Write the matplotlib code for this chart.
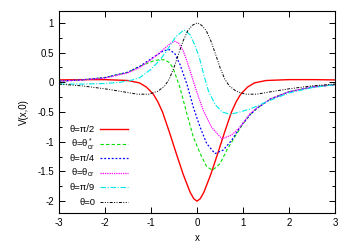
import numpy as np
import matplotlib.pyplot as plt
from matplotlib.lines import Line2D
from matplotlib.ticker import MultipleLocator

plt.rcParams['font.family'] = ['Liberation Sans', 'DejaVu Sans']
plt.rcParams['mathtext.fontset'] = 'custom'
plt.rcParams['mathtext.rm'] = 'Liberation Sans'
plt.rcParams['mathtext.it'] = 'Liberation Sans'

# values
x_red = [-3, -2.5, -2, -1.5, -1.25, -1.1, -0.95, -0.85, -0.75, -0.6, -0.45, -0.3, -0.15, -0.07, 0,
         0.07, 0.15, 0.3, 0.45, 0.6, 0.75, 0.85, 0.95, 1.1, 1.25, 1.5, 2, 2.5, 3]
v_red = [0.04, 0.045, 0.045, 0.03, -0.01, -0.08, -0.2, -0.33, -0.5, -0.84, -1.2, -1.55, -1.85, -1.96, -2.0,
         -1.96, -1.85, -1.55, -1.2, -0.84, -0.5, -0.33, -0.2, -0.08, -0.01, 0.03, 0.045, 0.045, 0.04]

x_green = [-3, -2.5, -2, -1.5, -1.24, -0.95, -0.82, -0.7, -0.6, -0.52, -0.37, -0.22, -0.08,
           0.07, 0.21, 0.34, 0.5, 0.65, 0.86, 1.0, 1.15, 1.3, 1.6, 2, 2.5, 3]
v_green = [0.02, 0.04, 0.08, 0.17, 0.27, 0.36, 0.38, 0.38, 0.33, 0.24, -0.09, -0.53, -0.92,
           -1.2, -1.42, -1.48, -1.37, -1.14, -0.87, -0.7, -0.55, -0.44, -0.28, -0.16, -0.08, -0.04]

x_blue = [-3, -2.5, -2, -1.5, -1.24, -0.95, -0.73, -0.6, -0.48, -0.37, -0.22, -0.08,
          0.07, 0.21, 0.39, 0.57, 0.75, 0.93, 1.0, 1.15, 1.3, 1.6, 2, 2.5, 3]
v_blue = [0.02, 0.04, 0.08, 0.17, 0.27, 0.42, 0.53, 0.55, 0.48, 0.3, -0.03, -0.42,
          -0.76, -1.03, -1.2, -1.14, -0.98, -0.76, -0.69, -0.55, -0.44, -0.28, -0.16, -0.08, -0.04]

x_mag = [-3, -2.5, -2, -1.5, -1.24, -0.95, -0.66, -0.55, -0.48, -0.4, -0.3, -0.22, -0.01,
         0.14, 0.32, 0.54, 0.75, 0.93, 1.0, 1.15, 1.3, 1.6, 2, 2.5, 3]
v_mag = [0.02, 0.04, 0.07, 0.16, 0.25, 0.41, 0.6, 0.67, 0.69, 0.66, 0.53, 0.36, -0.15,
         -0.48, -0.76, -0.95, -0.89, -0.76, -0.69, -0.53, -0.43, -0.28, -0.16, -0.08, -0.04]

x_cyan = [-3, -2.5, -2, -1.67, -1.4, -1.24, -1.0, -0.8, -0.66, -0.46, -0.28, -0.15, -0.05,
          0.05, 0.15, 0.25, 0.4, 0.55, 0.72, 0.93, 1.15, 1.3, 1.6, 2, 2.5, 3]
v_cyan = [-0.03, -0.03, -0.02, 0.0, 0.04, 0.08, 0.22, 0.38, 0.53, 0.77, 0.88, 0.8, 0.63,
          0.42, 0.12, -0.15, -0.38, -0.5, -0.54, -0.5, -0.45, -0.4, -0.3, -0.18, -0.09, -0.04]

x_black = [-3, -2.5, -2, -1.6, -1.3, -1.05, -0.85, -0.7, -0.6, -0.5, -0.4, -0.3, -0.2, -0.1, 0,
           0.1, 0.2, 0.3, 0.4, 0.5, 0.6, 0.7, 0.85, 1.05, 1.3, 1.6, 2, 2.5, 3]
v_black = [-0.03, -0.06, -0.11, -0.16, -0.2, -0.2, -0.15, -0.06, 0.06, 0.25, 0.48, 0.7, 0.87, 0.96, 1.0,
           0.96, 0.87, 0.7, 0.48, 0.25, 0.06, -0.06, -0.15, -0.2, -0.2, -0.16, -0.11, -0.06, -0.03]

labels = [r'θ=π/2', r'θ=θ$^*_{\rm cr}$', r'θ=π/4', r'θ=θ$_{\rm cr}$', r'θ=π/9', r'θ=0']

series = [(x_red, v_red), (x_green, v_green), (x_blue, v_blue),
          (x_mag, v_mag), (x_cyan, v_cyan), (x_black, v_black)]
colors = ['#ff0000', '#00e000', '#0000ff', '#ff00ff', '#00e8e8', '#000000']
widths = [1.0, 0.8, 0.9, 0.9, 0.8, 0.7]
styles = ['-', (0, (3, 2)), (0, (1.5, 1.5)), (0, (1, 0.8)),
          (0, (5, 1.5, 1, 1.5)), (0, (3, 1.5, 1, 1.5, 1, 1.5))]

W, H = 350, 245
fig = plt.figure(figsize=(W / 100, H / 100), dpi=100)
ax = fig.add_axes([59 / W, 1 - 213 / H, 276 / W, 202 / H])

for (xs, vs), c, w, s in zip(series, colors, widths, styles):
    ax.plot(xs, vs, color=c, lw=w, ls=s)

ax.set_xlim(-3, 3)
ax.set_ylim(-2.2, 1.2)
ax.yaxis.set_minor_locator(MultipleLocator(0.25))
ax.tick_params(which='both', direction='in', top=True, right=True, labelsize=7, width=0.7)
ax.tick_params(which='major', length=4)
ax.tick_params(which='minor', length=2)
ax.set_yticks([-2, -1.5, -1, -0.5, 0, 0.5, 1])
ax.set_yticklabels(['-2', '-1.5', '-1', '-0.5', '0', '0.5', '1'])
ax.set_xticks([-3, -2, -1, 0, 1, 2, 3])
ax.set_xticklabels(['-3', '-2', '-1', '0', '1', '2', '3'])
for sp in ax.spines.values():
    sp.set_linewidth(0.8)

ax.set_xlabel('x', fontsize=7, labelpad=4)
ax.set_ylabel('V(x,0)', fontsize=7, labelpad=6)

# gnuplot-style key: label right-aligned, then the line sample
def ax_x(px):
    return (px - 59) / 276

def ax_y(py):
    return (213 - py) / 202

for i, (lab, c, w, s) in enumerate(zip(labels, colors, widths, styles)):
    row = 129 + 14.5 * i
    ax.text(ax_x(95), ax_y(row + 3.3), lab, transform=ax.transAxes, ha='right',
            va='baseline', fontsize=6.8)
    ax.add_line(Line2D([ax_x(100), ax_x(128)], [ax_y(row), ax_y(row)], transform=ax.transAxes,
                       color=c, lw=w, ls=s))

fig.savefig('out.png', dpi=100)
